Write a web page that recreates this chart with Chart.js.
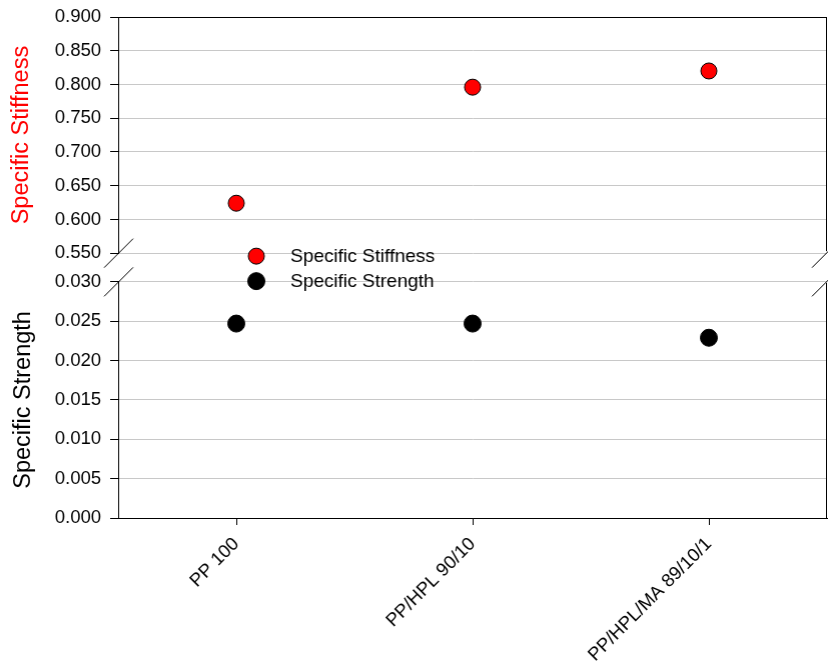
<!DOCTYPE html>
<html>
<head>
<meta charset="utf-8">
<script src="https://cdn.jsdelivr.net/npm/chart.js@4.4.1/dist/chart.umd.min.js"></script>
<style>
  html, body { margin: 0; padding: 0; background: #ffffff; overflow: hidden; }
  #wrap { width: 828px; height: 667px; position: relative; }
</style>
</head>
<body>
<div id="wrap"><canvas id="chart"></canvas></div>
<script>
// Blend formulations on the category axis
const categories = ['PP 100', 'PP/HPL 90/10', 'PP/HPL/MA 89/10/1'];

// Measured values per formulation
const specificStiffness = [0.624, 0.796, 0.820];
const specificStrength = [0.0247, 0.0247, 0.0229];

// Tick values for the upper (stiffness) and lower (strength) panels
const stiffnessTicks = [0.550, 0.600, 0.650, 0.700, 0.750, 0.800, 0.850, 0.900];
const strengthTicks = [0.000, 0.005, 0.010, 0.015, 0.020, 0.025, 0.030];

const FONT = "'Liberation Sans', Arial, sans-serif";
const GRID = '#c8c8c8';
const PLOT_RIGHT = 826;   // right edge of the plot frame

// Frame, right-hand border and axis-break marks drawn over the two stacked panels
const breakFrame = {
  id: 'breakFrame',
  afterDraw(chart) {
    const { ctx, chartArea } = chart;
    const top = chart.scales.yTop;
    const bot = chart.scales.yBottom;
    const L = chartArea.left, R = chartArea.right;
    ctx.save();
    ctx.strokeStyle = '#000';
    ctx.lineWidth = 1;
    ctx.beginPath();
    // top edge
    ctx.moveTo(L, chartArea.top + 0.5);
    ctx.lineTo(R, chartArea.top + 0.5);
    // right edge, upper and lower panel
    ctx.moveTo(R - 0.5, chartArea.top);
    ctx.lineTo(R - 0.5, top.bottom - 2);
    ctx.moveTo(R - 0.5, bot.top + 1);
    ctx.lineTo(R - 0.5, chartArea.bottom);
    ctx.stroke();
    // diagonal break marks at both ends of each panel edge
    const h = 14.5;
    ctx.beginPath();
    [L + 0.5, R - 0.5].forEach(x => {
      [top.bottom, bot.top].forEach(y => {
        ctx.moveTo(x - h, y + h);
        ctx.lineTo(x + h, y - h);
      });
    });
    ctx.stroke();
    ctx.restore();
  }
};

// Marker legend placed inside the plot between the two panels
const markerLegend = {
  id: 'markerLegend',
  afterDraw(chart) {
    const { ctx, chartArea } = chart;
    const top = chart.scales.yTop;
    const x0 = chartArea.left + 138;
    let y = top.bottom + 3;
    ctx.save();
    ctx.font = '19px ' + FONT;
    ctx.textBaseline = 'middle';
    ctx.textAlign = 'left';
    chart.data.datasets.forEach(ds => {
      ctx.beginPath();
      ctx.arc(x0, y, ds.pointRadius, 0, Math.PI * 2);
      ctx.fillStyle = ds.backgroundColor;
      ctx.fill();
      ctx.lineWidth = ds.borderWidth;
      ctx.strokeStyle = ds.borderColor;
      ctx.stroke();
      ctx.fillStyle = '#000';
      ctx.fillText(ds.label, x0 + 34, y + 1);
      y += 25;
    });
    ctx.restore();
  }
};

function fixedTicks(values) {
  return scale => { scale.ticks = values.map(v => ({ value: v })); };
}

// Fixed axis width, no extra padding for the end labels
function fixWidth(w) {
  return s => {
    s.width = w;
    s.paddingTop = 0; s.paddingBottom = 0; s.paddingLeft = 0; s.paddingRight = 0;
  };
}

const tickFont = { family: FONT, size: 18.5 };

const chart = new Chart(document.getElementById('chart'), {
  type: 'line',
  data: {
    labels: categories,
    datasets: [
      {
        label: 'Specific Stiffness',
        data: specificStiffness,
        yAxisID: 'yTop',
        showLine: false,
        pointRadius: 8,
        pointHoverRadius: 8,
        pointBackgroundColor: '#ff0000',
        pointBorderColor: '#000000',
        pointBorderWidth: 1,
        backgroundColor: '#ff0000',
        borderColor: '#000000',
        borderWidth: 1
      },
      {
        label: 'Specific Strength',
        data: specificStrength,
        yAxisID: 'yBottom',
        showLine: false,
        pointRadius: 8.5,
        pointHoverRadius: 8.5,
        pointBackgroundColor: '#000000',
        pointBorderColor: '#000000',
        pointBorderWidth: 1,
        backgroundColor: '#000000',
        borderColor: '#000000',
        borderWidth: 1
      }
    ]
  },
  options: {
    responsive: true,
    maintainAspectRatio: false,
    animation: false,
    events: [],
    layout: { padding: { top: 17, right: 2, bottom: 0, left: 0 } },
    plugins: {
      legend: { display: false },
      tooltip: { enabled: false }
    },
    scales: {
      x: {
        type: 'category',
        position: 'bottom',
        offset: true,
        grid: { display: true, drawOnChartArea: false, drawTicks: true, tickLength: 7, color: '#000', tickColor: '#000' },
        border: { display: true, color: '#000', width: 1 },
        ticks: { autoSkip: false, minRotation: 45, maxRotation: 45, color: '#000', font: { family: FONT, size: 18.5, lineHeight: 1.7 }, padding: 5 },
        afterFit: s => { s.height = 149; s.paddingLeft = 0; s.paddingRight = 0; }
      },
      yTop: {
        type: 'linear',
        position: 'left',
        stack: 'panels',
        stackWeight: 236,
        weight: 3,
        min: 0.55,
        max: 0.9,
        afterBuildTicks: fixedTicks(stiffnessTicks),
        ticks: { autoSkip: false, color: '#000', font: tickFont, padding: 9, callback: v => v.toFixed(3) },
        grid: { color: GRID, tickColor: '#000', tickLength: 8, drawTicks: true, lineWidth: 1 },
        border: { display: true, color: '#000', width: 1 },
        title: { display: true, text: 'Specific Stiffness', color: '#ff0000', font: { family: FONT, size: 23.5 }, padding: { top: 7, bottom: 0 } },
        afterFit: fixWidth(118)
      },
      yGap: {
        type: 'linear',
        position: 'left',
        stack: 'panels',
        stackWeight: 28.7,
        weight: 2,
        min: 0,
        max: 1,
        afterBuildTicks: s => { s.ticks = []; },
        ticks: { display: false },
        grid: { display: false },
        border: { display: false },
        afterFit: fixWidth(118)
      },
      yBottom: {
        type: 'linear',
        position: 'left',
        stack: 'panels',
        stackWeight: 236,
        weight: 1,
        min: 0,
        max: 0.03,
        afterBuildTicks: fixedTicks(strengthTicks),
        ticks: { autoSkip: false, color: '#000', font: tickFont, padding: 9, callback: v => v.toFixed(3) },
        grid: { color: ctx => (ctx.tick && ctx.tick.value === 0 ? '#000' : GRID), tickColor: '#000', tickLength: 8, drawTicks: true, lineWidth: 1 },
        border: { display: true, color: '#000', width: 1 },
        title: { display: true, text: 'Specific Strength', color: '#000', font: { family: FONT, size: 23.5 }, padding: { top: 9, bottom: 0 } },
        afterFit: fixWidth(118)
      }
    }
  },
  plugins: [breakFrame, markerLegend]
});

// The layout reserves a little space to the right of the plot; widen the
// canvas by that amount so the frame reaches the intended right edge.
const extra = PLOT_RIGHT - chart.chartArea.right;
if (extra > 0.25) {
  document.getElementById('wrap').style.width = (828 + extra) + 'px';
  chart.resize();
}
</script>
</body>
</html>
